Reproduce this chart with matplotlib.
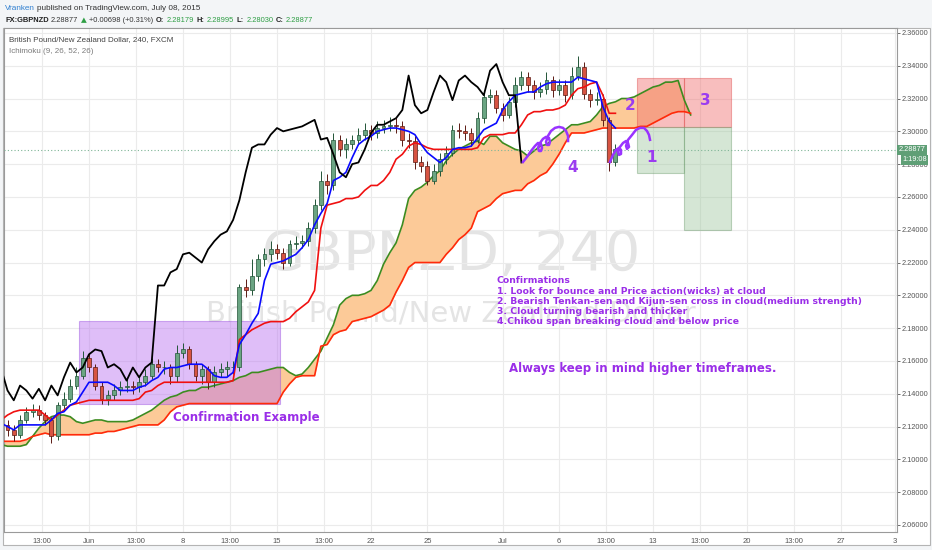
import numpy as np
import matplotlib.pyplot as plt
from matplotlib.patches import Rectangle

# x axis = 8h bar number counted from Jun 1 00:00 (3 bars a day, 15 a week)
candle_x = np.arange(-13, 85)
first_open = 2.121
close = [2.118, 2.115, 2.124, 2.129, 2.130, 2.127, 2.124, 2.114, 2.133, 2.137,
         2.145, 2.151, 2.162, 2.156, 2.145, 2.137, 2.139, 2.142, 2.144, 2.145,
         2.144, 2.147, 2.151, 2.158, 2.156, 2.156, 2.151, 2.165, 2.167, 2.158,
         2.151, 2.155, 2.147, 2.153, 2.155, 2.156, 2.156, 2.205, 2.203, 2.212,
         2.222, 2.225, 2.228, 2.226, 2.220, 2.231, 2.232, 2.233, 2.241, 2.255,
         2.270, 2.267, 2.295, 2.289, 2.292, 2.295, 2.298, 2.301, 2.299, 2.302,
         2.303, 2.304, 2.303, 2.295, 2.294, 2.281, 2.279, 2.270, 2.276, 2.283,
         2.287, 2.301, 2.300, 2.299, 2.295, 2.308, 2.321, 2.322, 2.314, 2.310,
         2.318, 2.328, 2.333, 2.328, 2.324, 2.326, 2.331, 2.325, 2.328, 2.322,
         2.334, 2.339, 2.323, 2.319, 2.320, 2.307, 2.281, 2.289]
high = [2.124, 2.121, 2.127, 2.132, 2.134, 2.133, 2.129, 2.126, 2.135, 2.141,
        2.149, 2.156, 2.166, 2.165, 2.158, 2.147, 2.142, 2.146, 2.148, 2.149,
        2.148, 2.151, 2.155, 2.162, 2.161, 2.160, 2.158, 2.170, 2.171, 2.169,
        2.160, 2.158, 2.157, 2.157, 2.159, 2.160, 2.160, 2.207, 2.210, 2.222,
        2.225, 2.229, 2.233, 2.231, 2.229, 2.234, 2.236, 2.237, 2.245, 2.259,
        2.276, 2.274, 2.299, 2.298, 2.296, 2.298, 2.302, 2.305, 2.304, 2.306,
        2.307, 2.309, 2.308, 2.306, 2.299, 2.297, 2.285, 2.282, 2.280, 2.287,
        2.291, 2.304, 2.305, 2.304, 2.302, 2.312, 2.325, 2.326, 2.325, 2.317,
        2.321, 2.333, 2.337, 2.336, 2.331, 2.330, 2.336, 2.334, 2.332, 2.331,
        2.339, 2.346, 2.342, 2.326, 2.324, 2.323, 2.309, 2.292]
low = [2.114, 2.111, 2.113, 2.122, 2.126, 2.124, 2.121, 2.110, 2.112, 2.131,
       2.135, 2.143, 2.149, 2.153, 2.142, 2.134, 2.133, 2.136, 2.139, 2.141,
       2.140, 2.141, 2.145, 2.149, 2.153, 2.152, 2.146, 2.147, 2.162, 2.155,
       2.148, 2.146, 2.143, 2.144, 2.150, 2.151, 2.152, 2.154, 2.199, 2.200,
       2.209, 2.218, 2.221, 2.222, 2.216, 2.218, 2.228, 2.229, 2.230, 2.238,
       2.252, 2.262, 2.264, 2.285, 2.284, 2.289, 2.292, 2.295, 2.295, 2.296,
       2.299, 2.300, 2.299, 2.291, 2.290, 2.277, 2.275, 2.267, 2.268, 2.273,
       2.280, 2.285, 2.296, 2.295, 2.291, 2.293, 2.305, 2.317, 2.311, 2.306,
       2.308, 2.315, 2.325, 2.324, 2.320, 2.321, 2.323, 2.321, 2.322, 2.318,
       2.320, 2.331, 2.320, 2.315, 2.316, 2.303, 2.276, 2.279]

# Ichimoku lines
line_x = np.arange(-14, 85)
tenkan = [2.122, 2.120, 2.118, 2.121, 2.121, 2.121, 2.121, 2.121, 2.124, 2.128,
          2.129, 2.133, 2.135, 2.141, 2.147, 2.147, 2.147, 2.147, 2.145, 2.142,
          2.142, 2.142, 2.144, 2.145, 2.148, 2.150, 2.155, 2.156, 2.156, 2.157,
          2.158, 2.158, 2.158, 2.155, 2.151, 2.150, 2.150, 2.153, 2.170, 2.176,
          2.183, 2.189, 2.209, 2.219, 2.220, 2.221, 2.223, 2.225, 2.229, 2.234,
          2.243, 2.250, 2.256, 2.270, 2.272, 2.275, 2.284, 2.292, 2.295, 2.297,
          2.300, 2.301, 2.302, 2.302, 2.301, 2.300, 2.298, 2.292, 2.287, 2.284,
          2.281, 2.284, 2.289, 2.290, 2.290, 2.291, 2.296, 2.301, 2.303, 2.305,
          2.313, 2.318, 2.322, 2.323, 2.324, 2.324, 2.327, 2.329, 2.330, 2.330,
          2.330, 2.330, 2.333, 2.332, 2.331, 2.330, 2.315, 2.306, 2.302]
kijun = [2.124, 2.127, 2.129, 2.130, 2.130, 2.130, 2.130, 2.127, 2.124, 2.127,
         2.130, 2.133, 2.134, 2.135, 2.136, 2.136, 2.136, 2.136, 2.136, 2.136,
         2.136, 2.136, 2.137, 2.141, 2.142, 2.145, 2.147, 2.147, 2.147, 2.147,
         2.147, 2.147, 2.147, 2.147, 2.147, 2.147, 2.147, 2.148, 2.173, 2.176,
         2.179, 2.181, 2.183, 2.184, 2.184, 2.184, 2.186, 2.190, 2.193, 2.196,
         2.203, 2.241, 2.255, 2.256, 2.257, 2.259, 2.259, 2.260, 2.264, 2.267,
         2.267, 2.270, 2.275, 2.283, 2.286, 2.291, 2.293, 2.292, 2.290, 2.289,
         2.289, 2.289, 2.289, 2.289, 2.289, 2.289, 2.290, 2.296, 2.298, 2.298,
         2.298, 2.299, 2.299, 2.304, 2.310, 2.312, 2.312, 2.313, 2.313, 2.314,
         2.316, 2.322, 2.326, 2.327, 2.329, 2.330, 2.322, 2.311, 2.311]
chikou_x = np.arange(-14, 70)
chikou = [2.155, 2.142, 2.136, 2.145, 2.142, 2.137, 2.143, 2.136, 2.145, 2.139,
          2.150, 2.159, 2.153, 2.156, 2.164, 2.167, 2.166, 2.156, 2.158, 2.155,
          2.148, 2.156, 2.150, 2.156, 2.159, 2.206, 2.206, 2.214, 2.216, 2.225,
          2.226, 2.223, 2.220, 2.228, 2.233, 2.237, 2.239, 2.246, 2.258, 2.275,
          2.290, 2.292, 2.292, 2.298, 2.302, 2.300, 2.301, 2.302, 2.303, 2.305,
          2.307, 2.295, 2.296, 2.286, 2.275, 2.272, 2.280, 2.281, 2.289, 2.299,
          2.304, 2.304, 2.306, 2.308, 2.313, 2.334, 2.316, 2.311, 2.313, 2.324,
          2.334, 2.330, 2.319, 2.331, 2.334, 2.330, 2.327, 2.322, 2.337, 2.341,
          2.330, 2.322, 2.322, 2.281]
span_x = np.arange(-14, 97)
span_a = [2.109, 2.108, 2.108, 2.108, 2.109, 2.114, 2.119, 2.123, 2.126, 2.127,
          2.127, 2.126, 2.123, 2.122, 2.123, 2.124, 2.124, 2.123, 2.123, 2.123,
          2.123, 2.124, 2.126, 2.128, 2.130, 2.133, 2.136, 2.138, 2.139, 2.141,
          2.142, 2.142, 2.144, 2.144, 2.145, 2.146, 2.147, 2.148, 2.150, 2.151,
          2.153, 2.153, 2.154, 2.155, 2.156, 2.156, 2.153, 2.151, 2.152, 2.156,
          2.161, 2.166, 2.174, 2.182, 2.194, 2.198, 2.200, 2.200, 2.201, 2.203,
          2.209, 2.219, 2.226, 2.232, 2.243, 2.259, 2.264, 2.266, 2.269, 2.273,
          2.276, 2.282, 2.286, 2.289, 2.291, 2.293, 2.294, 2.292, 2.297, 2.297,
          2.293, 2.291, 2.289, 2.288, 2.285, 2.288, 2.291, 2.292, 2.295, 2.298,
          2.301, 2.304, 2.304, 2.305, 2.306, 2.310, 2.315, 2.317, 2.318, 2.320,
          2.320, 2.321, 2.323, 2.325, 2.327, 2.328, 2.330, 2.330, 2.331, 2.319,
          2.310]
span_b = [2.111, 2.111, 2.111, 2.111, 2.112, 2.114, 2.115, 2.116, 2.115, 2.115,
          2.115, 2.115, 2.115, 2.115, 2.115, 2.116, 2.116, 2.117, 2.117, 2.118,
          2.119, 2.120, 2.121, 2.121, 2.121, 2.121, 2.124, 2.129, 2.132, 2.133,
          2.134, 2.134, 2.134, 2.134, 2.134, 2.134, 2.134, 2.134, 2.134, 2.134,
          2.134, 2.134, 2.134, 2.134, 2.134, 2.141, 2.146, 2.150, 2.151, 2.151,
          2.151, 2.169, 2.170, 2.176, 2.178, 2.179, 2.184, 2.185, 2.186, 2.187,
          2.189, 2.191, 2.194, 2.202, 2.209, 2.217, 2.220, 2.220, 2.220, 2.220,
          2.220, 2.225, 2.229, 2.234, 2.237, 2.241, 2.251, 2.253, 2.255, 2.259,
          2.262, 2.263, 2.264, 2.264, 2.268, 2.270, 2.273, 2.275, 2.280, 2.286,
          2.293, 2.299, 2.299, 2.299, 2.300, 2.301, 2.302, 2.302, 2.302, 2.302,
          2.302, 2.302, 2.303, 2.303, 2.305, 2.307, 2.309, 2.311, 2.312, 2.312,
          2.311]
last_price = 2.28877

# hand drawn squiggles
coil1_x = [69.25, 69.89, 70.53, 71.17, 71.64, 72.12, 72.29, 72.12, 71.81, 71.64,
           71.96, 72.44, 72.92, 73.40, 73.56, 73.40, 73.08, 72.92, 73.24, 73.72,
           74.36, 75.00, 75.64, 76.12, 76.44, 76.44]
coil1_y = [2.2813, 2.2844, 2.2880, 2.2911, 2.2929, 2.2923, 2.2899, 2.2880, 2.2880, 2.2899,
           2.2929, 2.2954, 2.2966, 2.2960, 2.2935, 2.2917, 2.2917, 2.2935, 2.2972, 2.3002,
           2.3021, 2.3027, 2.3021, 2.3002, 2.2972, 2.2941]
coil2_x = [83.13, 83.61, 84.09, 84.57, 84.89, 84.89, 84.57, 84.41, 84.73, 85.21,
           85.69, 86.01, 86.17, 85.85, 85.69, 86.01, 86.65, 87.28, 87.92, 88.56,
           89.04, 89.36, 89.52]
coil2_y = [2.2813, 2.2856, 2.2887, 2.2899, 2.2887, 2.2862, 2.2856, 2.2874, 2.2905, 2.2929,
           2.2941, 2.2929, 2.2905, 2.2893, 2.2911, 2.2948, 2.2978, 2.3009, 2.3021, 2.3021,
           2.3002, 2.2978, 2.2948]

x_ticks = [-7.5, 0, 7.5, 15, 22.5, 30, 37.5, 45, 54, 66, 75, 82.5, 90, 97.5, 105, 112.5, 120, 128.6]
x_labels = ['13:00', 'Jun', '13:00', '8', '13:00', '15', '13:00', '22', '25', 'Jul',
            '6', '13:00', '13', '13:00', '20', '13:00', '27', '3']
y_ticks = [2.06, 2.08, 2.10, 2.12, 2.14, 2.16, 2.18, 2.20, 2.22, 2.24, 2.26, 2.28, 2.30, 2.32, 2.34, 2.36]

confirm_lines = ['Confirmations',
                 '1. Look for bounce and Price action(wicks) at cloud',
                 '2. Bearish Tenkan-sen and Kijun-sen cross in cloud(medium strength)',
                 '3. Cloud turning bearish and thicker',
                 '4.Chikou span breaking cloud and below price']

purple = '#9a2ee8'
small_font = 'Liberation Sans'

plt.rcParams['font.family'] = 'DejaVu Sans'

fig = plt.figure(figsize=(9.32, 5.5), dpi=100)
fig.patch.set_facecolor('#f3f5f7')
fig.add_artist(Rectangle((3 / 932, 5 / 550), 927 / 932, 517 / 550, transform=fig.transFigure,
                         facecolor='white', edgecolor='#b4b4b4', lw=0.8, zorder=0))
ax = fig.add_axes([4 / 932, 18 / 550, 893 / 932, 504 / 550])

# cloud
ax.fill_between(span_x, span_a, span_b, color='#fcca98', lw=0, zorder=1)

# drawn boxes
ax.add_patch(Rectangle((-1.6, 2.1338), 32.1, 0.0506, facecolor='#b870f0', alpha=0.45,
                       edgecolor='#9a50e0', lw=0.8, zorder=2))
ax.add_patch(Rectangle((87.4, 2.3027), 7.5, 0.0299, facecolor='#f07070', alpha=0.45,
                       edgecolor='#e05050', lw=0.8, zorder=2))
ax.add_patch(Rectangle((94.9, 2.3027), 7.5, 0.0299, facecolor='#f07070', alpha=0.45,
                       edgecolor='#e05050', lw=0.8, zorder=2))
ax.add_patch(Rectangle((87.4, 2.2746), 7.5, 0.0281, facecolor='#9cc59c', alpha=0.42,
                       edgecolor='#6a9a6a', lw=0.8, zorder=2))
ax.add_patch(Rectangle((94.9, 2.2399), 7.5, 0.0628, facecolor='#9cc59c', alpha=0.42,
                       edgecolor='#6a9a6a', lw=0.8, zorder=2))

ax.plot(span_x, span_a, color='#3d8b1f', lw=1.2, zorder=3)
ax.plot(span_x, span_b, color='#ff2a0a', lw=1.2, zorder=3)

# candles
opens = [first_open] + close[:-1]
up = [c >= o for o, c in zip(opens, close)]
body_col = ['#6ba583' if u else '#d75442' for u in up]
edge_col = ['#225437' if u else '#5b1a13' for u in up]
ax.vlines(candle_x, low, high, colors=edge_col, lw=0.7, zorder=4)
ax.bar(candle_x, np.array(close) - np.array(opens), bottom=opens, width=0.62,
       color=body_col, edgecolor=edge_col, linewidth=0.5, zorder=4)

ax.plot(line_x, kijun, color='#f01010', lw=1.2, zorder=5)
ax.plot(line_x, tenkan, color='#0a0aff', lw=1.2, zorder=5)
ax.plot(chikou_x, chikou, color='black', lw=1.3, zorder=5)

ax.plot(coil1_x, coil1_y, color='#9933ff', lw=1.8, zorder=6)
ax.plot(coil2_x, coil2_y, color='#9933ff', lw=1.8, zorder=6)

ax.axhline(last_price, color='#7fb596', ls=(0, (1, 2)), lw=0.8, zorder=3)

# watermark
ax.text(57.8, 2.2246, 'GBPNZD, 240', fontsize=40, color='#e4e4e4', ha='center', va='center', zorder=0.5)
ax.text(57.8, 2.1892, 'British Pound/New Zealand Dollar', fontsize=21, color='#e4e4e4',
        ha='center', va='center', zorder=0.5)

# annotations
ax.text(13.4, 2.1258, 'Confirmation Example', fontsize=8.5, fontweight='bold', color=purple,
        va='center', zorder=7)
for i, line in enumerate(confirm_lines):
    ax.text(65.1, 2.2088 - i * 0.00625, line, fontsize=6.7, fontweight='bold', color=purple,
            va='center', zorder=7)
ax.text(67.0, 2.1551, 'Always keep in mind higher timeframes.', fontsize=8.5, fontweight='bold',
        color=purple, va='center', zorder=7)
for num, nx, ny in [('1', 89.7, 2.2838), ('2', 86.3, 2.3155), ('3', 98.3, 2.3185), ('4', 77.2, 2.2777)]:
    ax.text(nx, ny, num, fontsize=11, fontweight='bold', color='#9b3cf0', ha='center', va='center', zorder=7)

ax.text(0.0056, 0.978, 'British Pound/New Zealand Dollar, 240, FXCM', transform=ax.transAxes,
        fontsize=5.8, color='#444444', family=small_font, va='center')
ax.text(0.0056, 0.954, 'Ichimoku (9, 26, 52, 26)', transform=ax.transAxes,
        fontsize=5.8, color='#7a7a7a', family=small_font, va='center')

ax.set_xlim(-13.56, 128.93)
ax.set_ylim(2.0557, 2.3630)
ax.set_xticks(x_ticks)
ax.set_xticklabels(x_labels, family=small_font)
ax.yaxis.tick_right()
ax.set_yticks(y_ticks)
ax.set_yticklabels(['%.5f' % p for p in y_ticks], family=small_font)
ax.tick_params(axis='y', labelsize=5.3, colors='#555555', length=2.5, pad=1, width=0.6)
ax.tick_params(axis='x', labelsize=5.5, colors='#555555', length=0, pad=4)
ax.grid(True, color='#ebebeb', lw=0.8)
ax.set_axisbelow(True)
for s in ax.spines.values():
    s.set_color('#9a9a9a')
    s.set_linewidth(0.8)

# current price tags on the scale
ax.text(1.002, last_price, '2.28877', transform=ax.get_yaxis_transform(), fontsize=5.3,
        family=small_font, color='white', va='center', ha='left', clip_on=False, zorder=8,
        bbox=dict(boxstyle='square,pad=0.2', fc='#5f9f76', ec='none'))
ax.text(1.006, 2.2826, '1:19:08', transform=ax.get_yaxis_transform(), fontsize=5.3,
        family=small_font, color='white', va='center', ha='left', clip_on=False, zorder=8,
        bbox=dict(boxstyle='square,pad=0.2', fc='#5f9f76', ec='none'))

# header, pieces laid out one after another
renderer = fig.canvas.get_renderer()


def header_line(parts, y, size):
    x = 5
    for txt, col, w in parts:
        fam = 'DejaVu Sans' if txt == '\u25b2' else small_font
        t = fig.text(x / 932, y, txt, color=col, fontsize=size, fontweight=w, family=fam, va='center')
        x = t.get_window_extent(renderer).x1 + 2.5


header_line([('Vranken', '#2f7fd0', 'normal'),
             ('published on TradingView.com, July 08, 2015', '#333333', 'normal')], 1 - 8 / 550, 5.9)
header_line([('FX:GBPNZD', '#222222', 'bold'), ('2.28877', '#333333', 'normal'),
             ('\u25b2', '#2e9e44', 'normal'), ('+0.00698 (+0.31%)', '#333333', 'normal'),
             ('O:', '#222222', 'bold'), ('2.28179', '#2e9e44', 'normal'),
             ('H:', '#222222', 'bold'), ('2.28995', '#2e9e44', 'normal'),
             ('L:', '#222222', 'bold'), ('2.28030', '#2e9e44', 'normal'),
             ('C:', '#222222', 'bold'), ('2.28877', '#2e9e44', 'normal')], 1 - 20 / 550, 5.4)

fig.savefig('out.png', dpi=100)
